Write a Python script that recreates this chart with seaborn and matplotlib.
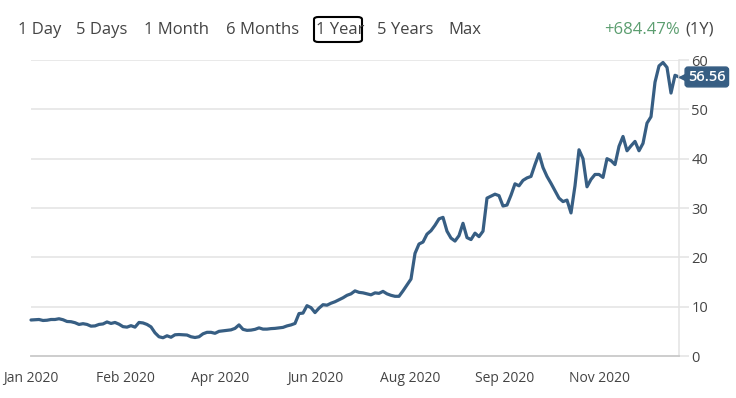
import numpy as np
import pandas as pd
import matplotlib
matplotlib.use("Agg")
import matplotlib.pyplot as plt
from matplotlib.patches import FancyBboxPatch
import seaborn as sns

# ---- data ----
prices = [
    7.3, 7.35, 7.4, 7.2, 7.25, 7.4, 7.4, 7.55, 7.35, 7.0,
    6.95, 6.75, 6.4, 6.55, 6.4, 6.05, 6.1, 6.4, 6.5, 6.9,
    6.6, 6.8, 6.45, 5.95, 5.85, 6.15, 5.85, 6.8, 6.7, 6.4,
    5.9, 4.7, 3.9, 3.7, 4.1, 3.8, 4.3, 4.35, 4.3, 4.25,
    3.9, 3.75, 3.9, 4.5, 4.8, 4.8, 4.6, 5.0, 5.1, 5.2,
    5.3, 5.6, 6.3, 5.4, 5.2, 5.25, 5.4, 5.7, 5.45, 5.45,
    5.55, 5.6, 5.7, 5.8, 6.1, 6.3, 6.6, 8.6, 8.7, 10.2,
    9.8, 8.8, 9.7, 10.4, 10.3, 10.7, 11.0, 11.4, 11.8, 12.3,
    12.6, 13.2, 12.9, 12.8, 12.6, 12.4, 12.8, 12.7, 13.1, 12.6,
    12.3, 12.1, 12.1, 13.2, 14.4, 15.6, 20.8, 22.7, 23.1, 24.7,
    25.4, 26.5, 27.8, 28.1, 25.3, 23.9, 23.3, 24.4, 26.9, 24.0,
    23.6, 24.9, 24.2, 25.3, 32.0, 32.4, 32.8, 32.5, 30.4, 30.6,
    32.6, 34.9, 34.5, 35.6, 36.1, 36.4, 38.8, 41.0, 38.2, 36.4,
    35.0, 33.5, 32.0, 31.3, 31.6, 29.0, 34.5, 41.8, 40.0, 34.3,
    35.8, 36.8, 36.8, 36.2, 40.0, 39.6, 38.8, 42.5, 44.5, 41.6,
    42.6, 43.5, 41.6, 43.1, 47.2, 48.5, 55.5, 58.8, 59.5, 58.5,
    53.3, 56.9, 56.56,
]
x_labels = ["Jan 2020", "Feb 2020", "Apr 2020", "Jun 2020", "Aug 2020", "Sep 2020", "Nov 2020"]
y_ticks = [0, 10, 20, 30, 40, 50, 60]
buttons = ["1 Day", "5 Days", "1 Month", "6 Months", "1 Year", "5 Years", "Max"]
active_button = "1 Year"
change_text = "+684.47%"
period_text = "(1Y)"
last_label = "56.56"

df = pd.DataFrame({"idx": np.arange(len(prices)), "price": prices})

LINE = "#375e83"
GRID = "#e3e3e3"
TXT = "#444444"
W, H = 736, 398

sns.set_style("white")
plt.rcParams["font.family"] = ["Open Sans", "DejaVu Sans"]

fig = plt.figure(figsize=(W / 100, H / 100), dpi=100)
ax = fig.add_axes([31 / W, 42 / H, 648 / W, 296 / H])

sns.lineplot(data=df, x="idx", y="price", ax=ax, color=LINE, linewidth=2.3)
for l in ax.lines:
    l.set_clip_on(False)
    l.set_solid_joinstyle("round")

n = len(prices)
ax.set_xlim(0, n - 1)
ax.set_ylim(0, 60)
step = (n - 1) * 94.8 / 648
ax.set_xticks([i * step for i in range(len(x_labels))])
ax.set_xticklabels(x_labels)
ax.set_yticks(y_ticks)
ax.yaxis.tick_right()
ax.set_xlabel("")
ax.set_ylabel("")

for v in y_ticks[1:]:
    ax.axhline(v, color=GRID, linewidth=1.1, zorder=0)

for s in ["top", "left"]:
    ax.spines[s].set_visible(False)
ax.spines["right"].set_color(GRID)
ax.spines["right"].set_linewidth(1.1)
ax.spines["bottom"].set_color("#c9c9c9")
ax.spines["bottom"].set_linewidth(1.3)

ax.tick_params(axis="x", length=0, pad=11, labelsize=10, labelcolor=TXT)
ax.tick_params(axis="y", right=True, length=7, width=1.1, color=GRID, pad=2,
               labelsize=10.5, labelcolor=TXT)

# last value label
ax.plot([1.0 + 6 / 648], [prices[-1]], marker="<", markersize=9, color=LINE,
        transform=ax.get_yaxis_transform(), clip_on=False, zorder=5)
ax.text(1.0 + 9 / 648, prices[-1], last_label, transform=ax.get_yaxis_transform(),
        ha="left", va="center", fontsize=10.5, color="white", fontweight="semibold",
        bbox=dict(boxstyle="round,pad=0.2,rounding_size=0.2", fc=LINE, ec=LINE),
        zorder=6, clip_on=False)

# top row buttons
bx = [18, 76, 144, 226, 316, 377, 448]
for label, x in zip(buttons, bx):
    fig.text(x / W, 1 - 30 / H, label, ha="left", va="center",
             fontsize=12, color=TXT)
    if label == active_button:
        fig.patches.append(FancyBboxPatch(
            (314 / W, 1 - 42 / H), 48 / W, 25 / H,
            boxstyle="round,pad=0,rounding_size=0.006",
            transform=fig.transFigure, fc="none", ec="black", lw=1.5))

fig.text(680 / W, 1 - 30 / H, change_text, ha="right", va="center",
         fontsize=12, color="#5c9e70")
fig.text(685 / W, 1 - 30 / H, period_text, ha="left", va="center",
         fontsize=12, color=TXT)

fig.savefig("out.png", dpi=100)
